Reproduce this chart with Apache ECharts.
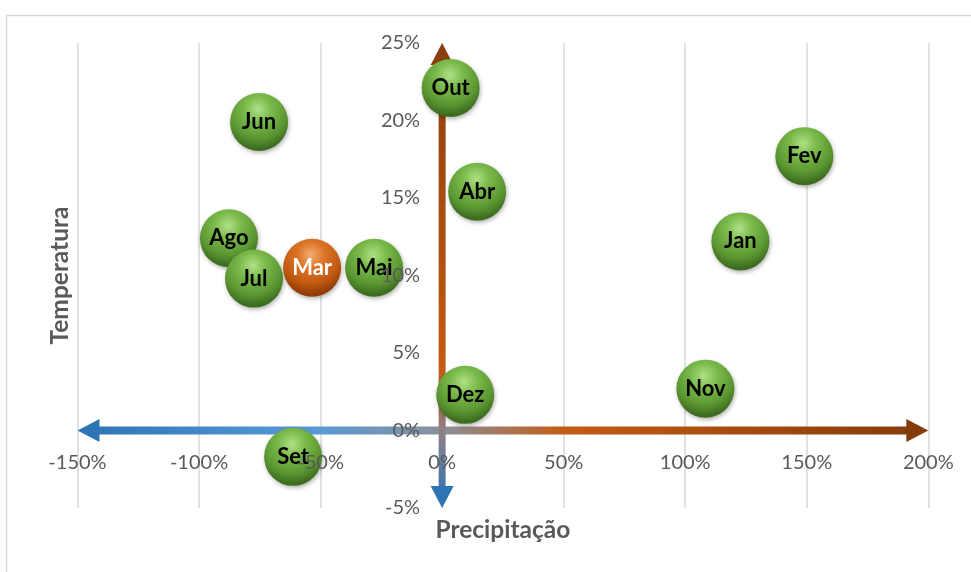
<!DOCTYPE html>
<html>
<head>
<meta charset="utf-8">
<script src="https://cdn.jsdelivr.net/npm/echarts@6/dist/echarts.min.js"></script>
<style>
  html, body { margin: 0; padding: 0; background: #fff; }
  #main { width: 971px; height: 572px; }
</style>
</head>
<body>
<div id="main"></div>
<script>
// dados (desvios em %)
const meses = ['Jan', 'Fev', 'Mar', 'Abr', 'Mai', 'Jun', 'Jul', 'Ago', 'Set', 'Out', 'Nov', 'Dez']
const precipitacao = [122.7, 149, -53.5, 14.4, -28, -75.3, -77.4, -87.7, -61.3, 3.5, 108.3, 9.5]
const temperatura = [12.2, 17.7, 10.5, 15.4, 10.5, 19.9, 9.8, 12.4, -1.7, 22.1, 2.7, 2.3]
const destaque = ['Mar']
const xTicks = [-150, -100, -50, 0, 50, 100, 150, 200]
const yTicks = [-5, 0, 5, 10, 15, 20, 25]

const xMin = xTicks[0], xMax = xTicks[xTicks.length - 1]
const yMin = yTicks[0], yMax = yTicks[yTicks.length - 1]

const fonte = 'Lato, "Open Sans", sans-serif'

const verde = new echarts.graphic.RadialGradient(0.48, 0.28, 0.78, [
  { offset: 0, color: '#b0e086' },
  { offset: 0.3, color: '#7aba4b' },
  { offset: 0.65, color: '#5a9631' },
  { offset: 0.88, color: '#3c6b1f' },
  { offset: 1, color: '#4a7b2b' }
])
const laranja = new echarts.graphic.RadialGradient(0.48, 0.28, 0.78, [
  { offset: 0, color: '#f6ab6e' },
  { offset: 0.3, color: '#dc7428' },
  { offset: 0.65, color: '#c0580f' },
  { offset: 0.88, color: '#8c3a06' },
  { offset: 1, color: '#9a4610' }
])

const gradH = new echarts.graphic.LinearGradient(0, 0, 1, 0, [
  { offset: 0, color: '#2e75b6' },
  { offset: 0.28, color: '#5b9bd5' },
  { offset: 0.43, color: '#8c8f99' },
  { offset: 0.58, color: '#c55a11' },
  { offset: 1, color: '#843c0c' }
])
const gradV = new echarts.graphic.LinearGradient(0, 0, 0, 1, [
  { offset: 0, color: '#8b3f0e' },
  { offset: 0.7, color: '#c55a11' },
  { offset: 0.85, color: '#8f8088' },
  { offset: 1, color: '#2e75b6' }
])

// desenha na ordem inversa (Jul fica por cima de Ago)
const pontos = meses.map((m, i) => ({
  name: m,
  value: [precipitacao[i], temperatura[i]],
  itemStyle: { color: destaque.includes(m) ? laranja : verde },
  label: { color: destaque.includes(m) ? '#ffffff' : '#000000' }
})).reverse()

const chart = echarts.init(document.getElementById('main'))
chart.setOption({
  animation: false,
  grid: { left: 77.5, right: 42.7, top: 43, bottom: 64, outerBoundsMode: 'none' },
  graphic: [{
    type: 'rect', left: 4, top: 13, silent: true,
    shape: { width: 1000, height: 700 },
    style: { fill: 'none', stroke: '#d9d9d9', lineWidth: 1.5 }
  }],
  xAxis: [
    {
      type: 'value', min: xMin, max: xMax, interval: xTicks[1] - xTicks[0],
      axisLine: { show: false, onZero: false },
      axisTick: { show: false },
      axisLabel: { show: false },
      splitLine: { show: true, lineStyle: { color: '#d9d9d9', width: 1.5 } },
      z: 0
    },
    {
      type: 'value', min: xMin, max: xMax, interval: xTicks[1] - xTicks[0],
      position: 'bottom',
      axisLine: { show: false, onZero: false },
      axisTick: { show: false },
      splitLine: { show: false },
      axisLabel: { formatter: '{value}%', color: '#595959', fontSize: 20, fontFamily: fonte, margin: 22 },
      name: 'Precipitação', nameLocation: 'middle', nameGap: 87,
      nameTextStyle: { color: '#595959', fontSize: 24.5, fontWeight: 'bold', fontFamily: fonte },
      z: 10
    }
  ],
  yAxis: {
    type: 'value', min: yMin, max: yMax, interval: yTicks[1] - yTicks[0],
    position: 'left',
    axisLine: { show: false, onZero: false },
    axisTick: { show: false },
    splitLine: { show: false },
    axisLabel: { formatter: '{value}%', color: '#595959', fontSize: 20, fontFamily: fonte, margin: 22 },
    name: 'Temperatura', nameLocation: 'middle', nameGap: 370, nameRotate: 90,
    nameTextStyle: { color: '#595959', fontSize: 24.5, fontWeight: 'bold', fontFamily: fonte },
    z: 10
  },
  series: [
    {
      type: 'line', silent: true, symbol: 'none', z: 2,
      data: [[xMin + 5, 0], [xMax - 5, 0]],
      lineStyle: { width: 8, color: gradH, opacity: 1 }
    },
    {
      type: 'line', silent: true, symbol: 'none', z: 2,
      data: [[0, yMax - 0.7], [0, yMin + 0.7]],
      lineStyle: { width: 7, color: gradV, opacity: 1 }
    },
    {
      type: 'scatter', silent: true, symbol: 'triangle', symbolSize: [23, 22], z: 2,
      itemStyle: { opacity: 1 },
      data: [
        { value: [xMax, 0], symbolRotate: -90, symbolOffset: [-11, 0], itemStyle: { color: '#843c0c' } },
        { value: [xMin, 0], symbolRotate: 90, symbolOffset: [11, 0], itemStyle: { color: '#2e75b6' } },
        { value: [0, yMax], symbolRotate: 0, symbolOffset: [0, 11], itemStyle: { color: '#8b3f0e' } },
        { value: [0, yMin], symbolRotate: 180, symbolOffset: [0, -11], itemStyle: { color: '#2e75b6' } }
      ]
    },
    {
      type: 'scatter', z: 3, symbolSize: 58,
      data: pontos,
      itemStyle: { opacity: 1, shadowBlur: 4, shadowColor: 'rgba(0,0,0,0.3)', shadowOffsetX: 1, shadowOffsetY: 2 },
      label: {
        show: true, position: 'inside', formatter: '{b}',
        fontSize: 22, fontWeight: 'bold', fontFamily: fonte
      }
    }
  ]
})

// leva os rótulos dos eixos até a origem (0, 0)
const origem = chart.convertToPixel({ gridIndex: 0 }, [0, 0])
const canto = chart.convertToPixel({ gridIndex: 0 }, [xMin, yMin])
chart.setOption({
  xAxis: [{}, { offset: -(canto[1] - origem[1]) }],
  yAxis: { offset: -(origem[0] - canto[0]) }
})
</script>
</body>
</html>
